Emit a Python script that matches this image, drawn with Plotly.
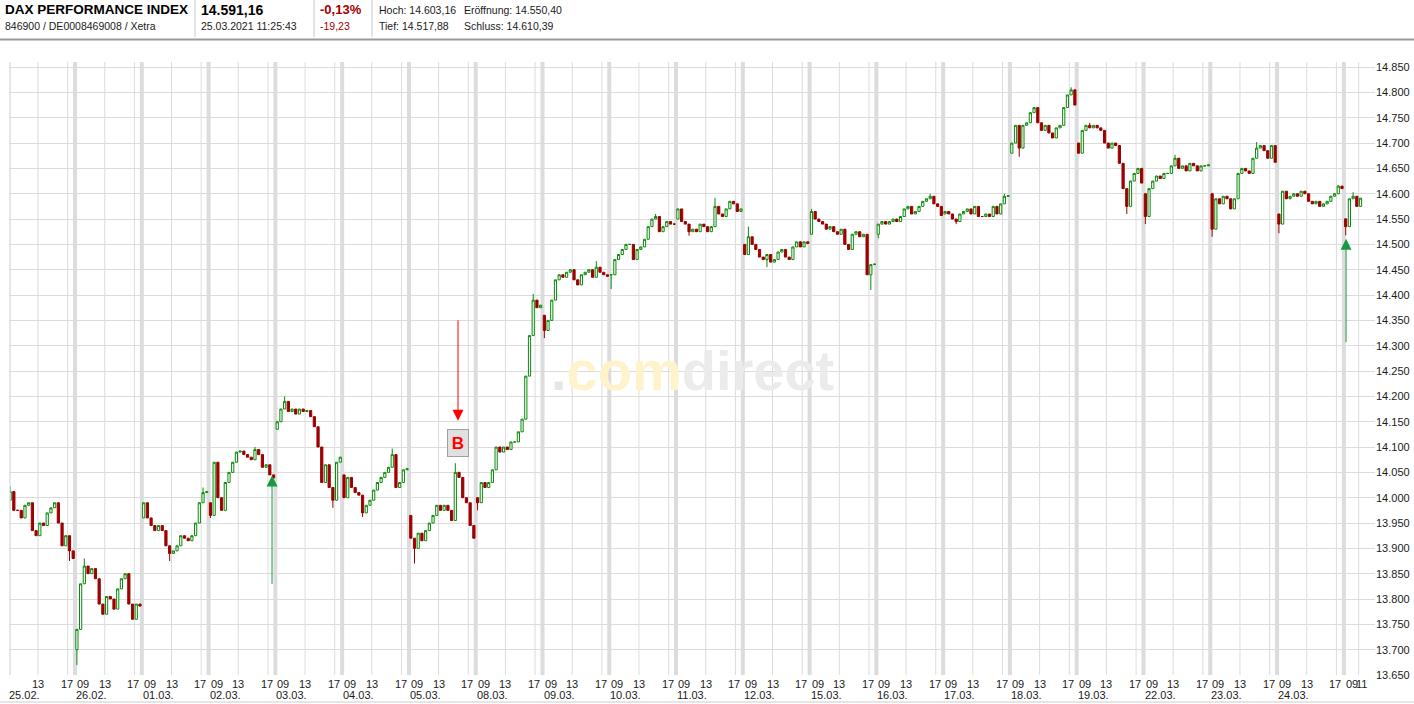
import pandas as pd
import plotly.graph_objects as go

# ---------------- data ----------------
day_dates = ["2021-02-25", "2021-02-26", "2021-03-01", "2021-03-02", "2021-03-03",
             "2021-03-04", "2021-03-05", "2021-03-08", "2021-03-09", "2021-03-10",
             "2021-03-11", "2021-03-12", "2021-03-15", "2021-03-16", "2021-03-17",
             "2021-03-18", "2021-03-19", "2021-03-22", "2021-03-23", "2021-03-24",
             "2021-03-25"]
day_labels = ["25.02.", "26.02.", "01.03.", "02.03.", "03.03.", "04.03.", "05.03.",
              "08.03.", "09.03.", "10.03.", "11.03.", "12.03.", "15.03.", "16.03.",
              "17.03.", "18.03.", "19.03.", "22.03.", "23.03.", "24.03.", ""]
day_open = [13995, 13700, 13960, 13990, 14135, 14045, 13965, 14000, 14360, 14440,
            14550, 14500, 14520, 14520, 14560, 14680, 14700, 14600, 14600, 14560, 14550.40]
# intraday extremes and the 30-minute slot in which they were reached
day_high = [14022, 13880, 14020, 14100, 14200, 14097, 14068, 14402, 14467, 14560,
            14592, 14535, 14570, 14600, 14600, 14810, 14740, 14677, 14702, 14617, 14603.16]
day_high_slot = [0, 2, 16, 12, 2, 13, 12, 15, 14, 12, 10, 1, 0, 14, 16, 16, 3, 8, 12, 16, 2]
day_low = [13875, 13670, 13875, 13960, 13980, 13962, 13870, 13975, 14315, 14412,
           14517, 14455, 14410, 14512, 14540, 14673, 14560, 14540, 14515, 14522, 14517.88]
day_low_slot = [16, 0, 7, 0, 15, 5, 1, 0, 0, 0, 3, 6, 16, 0, 3, 2, 13, 0, 0, 0, 0]

# 30-minute closes from 09:00, last value = closing auction
close_25_02 = [14012, 13975, 13975, 13960, 13985, 13990, 13935, 13925, 13950, 13945, 13970, 13980, 13990, 13950, 13905, 13925, 13895, 13880]
close_26_02 = [13740, 13830, 13865, 13850, 13860, 13840, 13790, 13770, 13805, 13800, 13780, 13820, 13840, 13850, 13790, 13760, 13790, 13786]
close_01_03 = [13990, 13960, 13945, 13935, 13945, 13935, 13905, 13890, 13895, 13905, 13925, 13920, 13915, 13925, 13950, 13990, 14010, 14012]
close_02_03 = [13965, 14070, 14000, 13975, 14030, 14050, 14070, 14090, 14092, 14085, 14080, 14075, 14095, 14085, 14060, 14065, 14045, 14039]
close_03_03 = [14150, 14175, 14190, 14170, 14175, 14165, 14175, 14170, 14172, 14160, 14140, 14100, 14030, 14065, 14020, 13995, 14070, 14080]
close_04_03 = [14000, 14040, 14020, 14010, 14005, 13970, 13985, 13995, 14015, 14030, 14040, 14050, 14060, 14085, 14020, 14030, 14055, 14057]
close_05_03 = [13920, 13900, 13930, 13915, 13935, 13950, 13965, 13985, 13975, 13985, 13975, 13955, 14050, 14040, 14000, 13990, 13945, 13920]
close_08_03 = [13990, 14030, 14020, 14030, 14055, 14100, 14090, 14100, 14095, 14110, 14110, 14130, 14155, 14240, 14320, 14390, 14375, 14380]
close_09_03 = [14330, 14350, 14390, 14430, 14440, 14435, 14445, 14450, 14430, 14420, 14440, 14445, 14450, 14435, 14455, 14445, 14440, 14437]
close_10_03 = [14440, 14470, 14480, 14490, 14500, 14500, 14470, 14490, 14495, 14510, 14535, 14550, 14555, 14525, 14535, 14545, 14540, 14540]
close_11_03 = [14570, 14545, 14540, 14525, 14530, 14525, 14540, 14535, 14525, 14535, 14575, 14560, 14555, 14570, 14585, 14580, 14565, 14570]
close_12_03 = [14480, 14515, 14500, 14490, 14475, 14470, 14480, 14465, 14470, 14485, 14490, 14475, 14470, 14495, 14505, 14495, 14505, 14502]
close_15_03 = [14565, 14550, 14545, 14540, 14530, 14535, 14525, 14520, 14530, 14500, 14490, 14520, 14525, 14515, 14520, 14440, 14460, 14461]
close_16_03 = [14540, 14545, 14540, 14545, 14550, 14545, 14555, 14570, 14575, 14560, 14565, 14575, 14585, 14590, 14595, 14580, 14575, 14557]
close_17_03 = [14565, 14560, 14550, 14545, 14560, 14565, 14570, 14560, 14575, 14555, 14555, 14560, 14555, 14575, 14560, 14580, 14595, 14596]
close_18_03 = [14700, 14735, 14690, 14735, 14740, 14760, 14770, 14740, 14725, 14735, 14720, 14710, 14730, 14735, 14770, 14795, 14805, 14775]
close_19_03 = [14680, 14725, 14735, 14730, 14735, 14730, 14725, 14700, 14690, 14700, 14695, 14660, 14610, 14575, 14625, 14640, 14650, 14621]
close_22_03 = [14555, 14610, 14625, 14635, 14630, 14640, 14640, 14655, 14670, 14650, 14655, 14645, 14660, 14655, 14645, 14655, 14655, 14657]
close_23_03 = [14530, 14590, 14580, 14595, 14590, 14570, 14590, 14640, 14650, 14645, 14640, 14670, 14690, 14695, 14685, 14670, 14695, 14662]
close_24_03 = [14540, 14605, 14590, 14595, 14600, 14595, 14605, 14600, 14585, 14580, 14585, 14575, 14580, 14585, 14595, 14600, 14615, 14610]
close_25_03 = [14535, 14590, 14595, 14575, 14591.16]

day_closes = [close_25_02, close_26_02, close_01_03, close_02_03, close_03_03, close_04_03,
              close_05_03, close_08_03, close_09_03, close_10_03, close_11_03, close_12_03,
              close_15_03, close_16_03, close_17_03, close_18_03, close_19_03, close_22_03,
              close_23_03, close_24_03, close_25_03]

# ---------------- build candles ----------------
xs, o, h, l, c = [], [], [], [], []
for d, (date, op, closes) in enumerate(zip(day_dates, day_open, day_closes)):
    prev = op
    for k, cl in enumerate(closes):
        xs.append(pd.Timestamp(date) + pd.Timedelta(hours=9, minutes=15 + 30 * k))
        hi = max(prev, cl)
        lo = min(prev, cl)
        if k == day_high_slot[d]:
            hi = max(hi, day_high[d])
        if k == day_low_slot[d]:
            lo = min(lo, day_low[d])
        o.append(prev)
        c.append(cl)
        h.append(hi)
        l.append(lo)
        prev = cl

GREEN = "#0a8a0a"
RED = "#9c0000"
GRID = "#dcdcdc"
TXT = "#1a1a1a"
FONT = "Liberation Sans, Arial, sans-serif"

fig = go.Figure()
fig.add_trace(go.Candlestick(
    x=xs, open=o, high=h, low=l, close=c,
    increasing=dict(line=dict(color=GREEN, width=1), fillcolor="white"),
    decreasing=dict(line=dict(color=RED, width=1), fillcolor=RED),
    whiskerwidth=0, showlegend=False, hoverinfo="skip"))

# plot-area geometry for paper placements (pixels)
PL, PR, PT, PB = 10, 1375, 62, 675
W, H = 1414, 704


def px(xp):
    return (xp - PL) / (PR - PL)


def py(yp):
    return (PB - yp) / (PB - PT)


shapes = []
annotations = []

# vertical day/time grid lines
for d, date in enumerate(day_dates):
    if d > 0:
        shapes.append(dict(type="line", xref="x", yref="paper", x0=f"{date} 09:00", x1=f"{date} 09:00",
                           y0=0, y1=1, line=dict(color=GRID, width=4), layer="below"))
    hours = ["13:00", "17:00"] if d < len(day_dates) - 1 else ["11:00"]
    for hh in hours:
        shapes.append(dict(type="line", xref="x", yref="paper", x0=f"{date} {hh}", x1=f"{date} {hh}",
                           y0=0, y1=1, line=dict(color=GRID, width=1), layer="below"))

# left border, header rule, header separators, bottom rule
shapes.append(dict(type="line", xref="paper", yref="paper", x0=0, x1=0, y0=0, y1=1,
                   line=dict(color="#cfcfcf", width=1)))
shapes.append(dict(type="line", xref="paper", yref="paper", x0=px(0), x1=px(W), y0=py(39.5), y1=py(39.5),
                   line=dict(color="#9a9a9a", width=2)))
for sx in (195, 314, 372):
    shapes.append(dict(type="line", xref="paper", yref="paper", x0=px(sx), x1=px(sx), y0=py(37), y1=py(0),
                       line=dict(color="#c8c8c8", width=1)))
shapes.append(dict(type="line", xref="paper", yref="paper", x0=px(0), x1=px(W), y0=py(702), y1=py(702),
                   line=dict(color="#cccccc", width=1)))

# x-axis labels (hours and dates)
HOUR_Y = py(683.5)
DATE_Y = py(694.5)
for d, (date, lab) in enumerate(zip(day_dates, day_labels)):
    last = d == len(day_dates) - 1
    if d > 0:
        annotations.append(dict(x=f"{date} 09:00", y=HOUR_Y, xref="x", yref="paper", text="09",
                                showarrow=False, xanchor="left", yanchor="middle", xshift=0,
                                font=dict(size=11, color=TXT)))
    if not last:
        for hh, t, sh in (("13:00", "13", 0), ("17:00", "17", -1)):
            annotations.append(dict(x=f"{date} {hh}", y=HOUR_Y, xref="x", yref="paper", text=t,
                                    showarrow=False, xanchor="center", yanchor="middle", xshift=sh,
                                    font=dict(size=11, color=TXT)))
        xd = f"{date} 09:00" if d > 0 else "2021-02-25 09:14"
        annotations.append(dict(x=xd, y=DATE_Y, xref="x", yref="paper", text=lab,
                                showarrow=False, xanchor="left", yanchor="middle", xshift=-1 if d > 0 else -3,
                                font=dict(size=11, color=TXT)))
    else:
        annotations.append(dict(x=f"{date} 11:00", y=HOUR_Y, xref="x", yref="paper", text="11",
                                showarrow=False, xanchor="center", yanchor="middle", xshift=3,
                                font=dict(size=11, color=TXT)))

# header texts
HEAD1, HEAD2 = 10, 26
annotations += [
    dict(x=px(3), y=py(HEAD1), text="<b>DAX PERFORMANCE INDEX</b>", font=dict(size=13.5, color="#000")),
    dict(x=px(3), y=py(HEAD2), text="846900 / DE0008469008 / Xetra", font=dict(size=10.5, color=TXT)),
    dict(x=px(199), y=py(HEAD1), text="<b>14.591,16</b>", font=dict(size=14, color="#000")),
    dict(x=px(199), y=py(HEAD2), text="25.03.2021 11:25:43", font=dict(size=10.5, color=TXT)),
    dict(x=px(318), y=py(HEAD1), text="<b>-0,13%</b>", font=dict(size=13, color="#a30000")),
    dict(x=px(318), y=py(HEAD2), text="-19,23", font=dict(size=10.5, color="#a30000")),
    dict(x=px(377), y=py(HEAD1), text="Hoch: 14.603,16", font=dict(size=10.5, color=TXT)),
    dict(x=px(462), y=py(HEAD1), text="Eröffnung: 14.550,40", font=dict(size=10.5, color=TXT)),
    dict(x=px(377), y=py(HEAD2), text="Tief: 14.517,88", font=dict(size=10.5, color=TXT)),
    dict(x=px(462), y=py(HEAD2), text="Schluss: 14.610,39", font=dict(size=10.5, color=TXT)),
]
for a in annotations[-10:]:
    a.update(xref="paper", yref="paper", showarrow=False, xanchor="left", yanchor="middle")

# watermark
annotations.append(dict(
    x=px(692), y=py(370), xref="paper", yref="paper", showarrow=False, xanchor="center", yanchor="middle",
    text="<b><span style='color:#e6e6e6'>.</span><span style='color:#fff3cc'>com</span>"
         "<span style='color:#ebebeb'>direct</span></b>",
    font=dict(size=56, family=FONT)))

# signal arrows
ARROW_G = "#179a43"
annotations.append(dict(x="2021-03-02 17:33", y=14044, ax="2021-03-02 17:33", ay=13827,
                        xref="x", yref="y", axref="x", ayref="y", showarrow=True, text="",
                        arrowhead=2, arrowsize=2.2, arrowwidth=1, arrowcolor=ARROW_G))
annotations.append(dict(x="2021-03-25 09:18", y=14511, ax="2021-03-25 09:18", ay=14304,
                        xref="x", yref="y", axref="x", ayref="y", showarrow=True, text="",
                        arrowhead=2, arrowsize=2.2, arrowwidth=1, arrowcolor=ARROW_G))
annotations.append(dict(x="2021-03-05 15:37", y=14152, ax="2021-03-05 15:37", ay=14353,
                        xref="x", yref="y", axref="x", ayref="y", showarrow=True, text="",
                        arrowhead=2, arrowsize=2.2, arrowwidth=1, arrowcolor="#ff0000"))
annotations.append(dict(x="2021-03-05 15:37", y=14107, xref="x", yref="y", showarrow=False,
                        text="<b>B</b>", font=dict(size=17, color="#ff0000"),
                        bgcolor="#e0e0e0", bordercolor="#a0a0a0", borderwidth=1, borderpad=0,
                        width=20, height=26, xanchor="center", yanchor="middle"))

fig.update_layout(
    width=W, height=H,
    margin=dict(l=PL, r=W - PR, t=PT, b=H - PB, autoexpand=False),
    paper_bgcolor="white", plot_bgcolor="white",
    separators=",.",
    font=dict(family=FONT, size=11, color=TXT),
    showlegend=False, boxgap=0.15,
    shapes=shapes, annotations=annotations,
)
fig.update_xaxes(
    type="date", range=["2021-02-25 09:14", "2021-03-25 13:12"],
    rangebreaks=[dict(bounds=["sat", "mon"]), dict(bounds=[18, 9], pattern="hour")],
    showgrid=False, showticklabels=False, zeroline=False, showline=False,
    rangeslider_visible=False, fixedrange=True, automargin=False)
fig.update_yaxes(
    side="right", range=[13650, 14860], tick0=13650, dtick=50, tickformat=",.0f",
    showgrid=True, gridcolor=GRID, gridwidth=1, zeroline=False, ticks="", showline=False,
    tickfont=dict(size=11, color=TXT), fixedrange=True, automargin=False)

fig.write_html(
    "out.html",
    config={"displayModeBar": False},
    post_script="document.body.style.margin='0';document.body.style.padding='0';"
                "document.body.style.overflow='hidden';",
)
